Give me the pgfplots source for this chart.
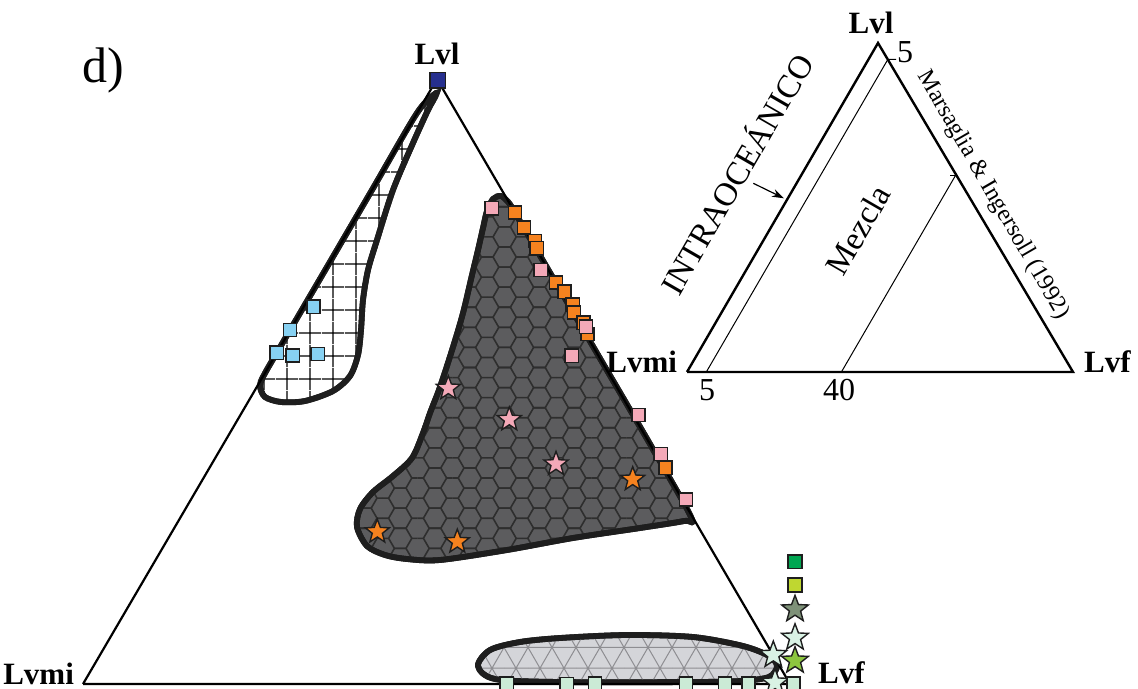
\documentclass[border=0pt]{standalone}
\usepackage{fontspec}
\setmainfont{Liberation Serif}
\usepackage{pgfplots}
\pgfplotsset{compat=1.18}
\usetikzlibrary{patterns.meta, arrows.meta}

% colours
\definecolor{pinkm}{HTML}{F4A9B8}
\definecolor{orangem}{HTML}{F5821F}
\definecolor{bluem}{HTML}{87D1F2}
\definecolor{navym}{HTML}{262F8E}
\definecolor{hexfill}{HTML}{5C5C5E}
\definecolor{hexline}{HTML}{2E2E2E}
\definecolor{trifill}{HTML}{D4D5D9}
\definecolor{triline}{HTML}{8E8E92}
\definecolor{mintsq}{HTML}{CBEBD6}
\definecolor{mintst}{HTML}{D9F2E4}
\definecolor{greenst}{HTML}{8DC63F}
\definecolor{graygreen}{HTML}{7E9178}
\definecolor{ygreen}{HTML}{BFD730}
\definecolor{greensq}{HTML}{00A651}
\definecolor{outl}{HTML}{1E1E1E}

% hexagonal net
\pgfdeclarepattern{
  name=hexnet, type=uncolored,
  bottom left={\pgfpoint{-1pt}{-1pt}},
  top right={\pgfpoint{18.4pt}{11.046pt}},
  tile size={\pgfpoint{17.4pt}{10.046pt}},
  code={
    \pgfsetlinewidth{0.8pt}
    \pgfpathmoveto{\pgfqpoint{0pt}{5.023pt}}
    \pgfpathlineto{\pgfqpoint{2.9pt}{5.023pt}}
    \pgfpathlineto{\pgfqpoint{5.8pt}{0pt}}
    \pgfpathlineto{\pgfqpoint{11.6pt}{0pt}}
    \pgfpathlineto{\pgfqpoint{14.5pt}{5.023pt}}
    \pgfpathlineto{\pgfqpoint{17.4pt}{5.023pt}}
    \pgfpathmoveto{\pgfqpoint{2.9pt}{5.023pt}}
    \pgfpathlineto{\pgfqpoint{5.8pt}{10.046pt}}
    \pgfpathlineto{\pgfqpoint{11.6pt}{10.046pt}}
    \pgfpathlineto{\pgfqpoint{14.5pt}{5.023pt}}
    \pgfusepath{stroke}
  }
}
% square net
\pgfdeclarepattern{
  name=sqnet, type=uncolored,
  bottom left={\pgfpoint{0pt}{0pt}},
  top right={\pgfpoint{11.5pt}{11.5pt}},
  tile size={\pgfpoint{11.5pt}{11.5pt}},
  code={
    \pgfsetlinewidth{0.6pt}
    \pgfpathmoveto{\pgfqpoint{5.75pt}{0pt}}
    \pgfpathlineto{\pgfqpoint{5.75pt}{11.5pt}}
    \pgfpathmoveto{\pgfqpoint{0pt}{5.75pt}}
    \pgfpathlineto{\pgfqpoint{11.5pt}{5.75pt}}
    \pgfusepath{stroke}
  }
}
% triangular net
\pgfdeclarepattern{
  name=trinet, type=uncolored,
  bottom left={\pgfpoint{-1pt}{-1pt}},
  top right={\pgfpoint{13pt}{21.785pt}},
  tile size={\pgfpoint{12pt}{20.785pt}},
  code={
    \pgfsetlinewidth{0.5pt}
    \pgfpathmoveto{\pgfqpoint{0pt}{0pt}}
    \pgfpathlineto{\pgfqpoint{12pt}{0pt}}
    \pgfpathmoveto{\pgfqpoint{0pt}{10.392pt}}
    \pgfpathlineto{\pgfqpoint{12pt}{10.392pt}}
    \pgfpathmoveto{\pgfqpoint{0pt}{0pt}}
    \pgfpathlineto{\pgfqpoint{12pt}{20.785pt}}
    \pgfpathmoveto{\pgfqpoint{12pt}{0pt}}
    \pgfpathlineto{\pgfqpoint{0pt}{20.785pt}}
    \pgfusepath{stroke}
  }
}

% filled five-pointed star
\pgfdeclareplotmark{fstar}{%
  \pgfpathmoveto{\pgfpointpolar{90}{\pgfplotmarksize}}%
  \pgfpathlineto{\pgfpointpolar{126}{0.42\pgfplotmarksize}}%
  \pgfpathlineto{\pgfpointpolar{162}{\pgfplotmarksize}}%
  \pgfpathlineto{\pgfpointpolar{198}{0.42\pgfplotmarksize}}%
  \pgfpathlineto{\pgfpointpolar{234}{\pgfplotmarksize}}%
  \pgfpathlineto{\pgfpointpolar{270}{0.42\pgfplotmarksize}}%
  \pgfpathlineto{\pgfpointpolar{306}{\pgfplotmarksize}}%
  \pgfpathlineto{\pgfpointpolar{342}{0.42\pgfplotmarksize}}%
  \pgfpathlineto{\pgfpointpolar{18}{\pgfplotmarksize}}%
  \pgfpathlineto{\pgfpointpolar{54}{0.42\pgfplotmarksize}}%
  \pgfpathclose
  \pgfusepathqfillstroke
}

\newcommand{\vlab}{\fontsize{15.5}{18}\selectfont\bfseries}

\begin{document}
\begin{tikzpicture}
\begin{axis}[
  scale only axis, width=569pt, height=344.5pt,
  xmin=0, xmax=1138, ymin=0, ymax=689, y dir=reverse,
  hide axis, clip=false,
  sq/.style={only marks, mark=square*, mark size=3.3pt,
    mark options={draw=outl, line width=0.8pt, fill=#1}},
  st/.style={only marks, mark=fstar, mark size=6.3pt,
    mark options={draw=outl, line width=0.7pt, line join=miter, fill=#1}},
]

% field: square net (upper left)
\addplot[smooth cycle, preaction={fill=white}, pattern=sqnet, pattern color=black,
  draw=outl, line width=2.9pt] coordinates {
  (436,93) (417,113) (372,190) (327,267) (282.5,343) (264,375)
  (260,386) (265,397) (281,402) (305,401) (333,391) (350,376)
  (358,355) (361,330) (363,300) (368,270) (377,240) (393,190)
  (413,143) (428,110) (434,99)
};

% field: hexagonal net (centre)
\addplot[smooth cycle, preaction={fill=hexfill}, pattern=hexnet, pattern color=hexline,
  draw=outl, line width=2.9pt] coordinates {
  (691,517) (651.7,447) (602.1,362) (552.5,277) (516.9,216) (509,203)
  (501,196) (493,199) (487,211) (483,228) (478,250) (472,275)
  (463,313) (453,347) (440,387) (430,413) (423,433) (412,458)
  (393,476) (373,492) (360,509) (357,527) (367,546) (385,555)
  (407,559) (440,560) (507,550) (573,538) (640,528) (684,521)
};

% field: triangular net (base)
\addplot[smooth cycle, preaction={fill=trifill}, pattern=trinet, pattern color=triline,
  draw=outl, line width=2.9pt] coordinates {
  (478,666) (490,650) (520,642) (560,638) (627,635) (693,637)
  (743,646) (769,656) (777,666) (769,677) (740,681) (693,682)
  (560,682) (495,679)
};

% main triangle
\addplot[black, line width=1.1pt, line join=miter] coordinates {
  (83,684) (437,79) (790,684) (83,684)
};

% samples
\addplot[sq=navym, mark size=3.9pt] coordinates {(437.5,80.5)};
\addplot[sq=bluem] coordinates {
  (313.3,306.7) (290,330) (276.7,352.7) (292.7,355.3) (317.7,354)
};
\addplot[sq=orangem] coordinates {
  (515,212.7) (524,227.7) (535,241) (536.7,248.3) (556,282.7)
  (564.3,291.7) (572.7,304.3) (574,312.3) (583.3,322.7) (587.3,334)
};
\addplot[sq=pinkm] coordinates {
  (491.7,208.3) (540.7,270) (586,326.7) (571.7,355.7) (638.3,415)
  (660.7,454) (686,499.5)
};
\addplot[sq=orangem] coordinates {(665.5,467.7)};
\addplot[st=pinkm] coordinates {(448.3,388.3) (509.3,419.5) (556,464)};
\addplot[st=orangem] coordinates {(377.3,531.7) (457.3,541.7) (632.7,479.3)};
\addplot[sq=mintsq] coordinates {
  (506.7,683.5) (566.7,684) (595,683.5) (686,683.5) (725,683.5) (748.3,683.5)
};
\addplot[st=mintst, mark size=7pt] coordinates {(773.3,655) (775,682.7) (795,637.7)};
\addplot[sq=mintsq] coordinates {(793.3,683.5)};
\addplot[st=greenst, mark size=7pt] coordinates {(795,660.7)};
\addplot[st=graygreen, mark size=7pt] coordinates {(795,609.3)};
\addplot[sq=ygreen, mark size=3.4pt] coordinates {(795,585)};
\addplot[sq=greensq, mark size=3.4pt] coordinates {(795,561.7)};

% vertex labels
\node[anchor=base, font=\vlab] at (axis cs:437,65) {Lvl};
\node[anchor=base east, font=\vlab] at (axis cs:81,684) {Lvmi};
\node[anchor=base west, font=\vlab] at (axis cs:811,683) {Lvf};
\node[anchor=base, font=\fontsize{25}{30}\selectfont] at (axis cs:103.5,83) {d)};

% reference triangle (upper right)
\addplot[black, line width=1.2pt, line join=miter] coordinates {
  (687,372) (878,43) (1073,372) (687,372)
};
\addplot[black, line width=0.5pt] coordinates {(706.3,372) (887.8,59.5) (896,59.5)};
\addplot[black, line width=0.5pt] coordinates {(841.4,372) (956,174.6)};
\addplot[black, line width=0.5pt] coordinates {(950,175.5) (957,175.5)};
\addplot[black, line width=0.6pt, -{Stealth[length=6pt,width=4pt]}] coordinates {(753.3,183.3) (784,198.3)};

\node[anchor=base, font=\vlab] at (axis cs:871,34) {Lvl};
\node[anchor=base east, font=\vlab] at (axis cs:684,372) {Lvmi};
\node[anchor=base west, font=\vlab] at (axis cs:1077,372) {Lvf};
\node[anchor=base, font=\fontsize{16}{19}\selectfont] at (axis cs:905,63) {5};
\node[anchor=base, font=\fontsize{16}{19}\selectfont] at (axis cs:707,400) {5};
\node[anchor=base, font=\fontsize{16}{19}\selectfont] at (axis cs:839,400) {40};
\node[rotate=60, font=\fontsize{16.5}{19}\selectfont] at (axis cs:735,173) {INTRAOCEÁNICO};
\node[rotate=60, font=\fontsize{16.5}{19}\selectfont] at (axis cs:858,230) {Mezcla};
\node[rotate=-60, font=\fontsize{12}{14}\selectfont] at (axis cs:993,195) {Marsaglia \& Ingersoll (1992)};
\end{axis}
\pgfresetboundingbox
\path (current axis.south west) rectangle (current axis.north east);
\end{tikzpicture}
\end{document}
